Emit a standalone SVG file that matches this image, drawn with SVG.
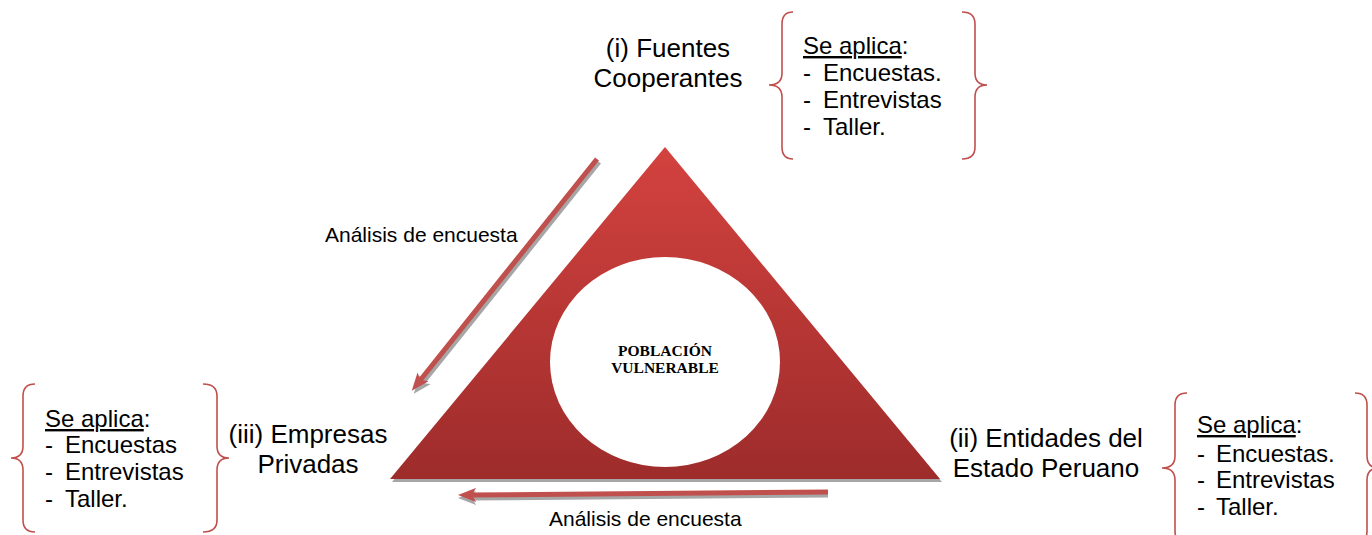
<svg xmlns="http://www.w3.org/2000/svg" width="1372" height="535" viewBox="0 0 1372 535">
<defs>
<linearGradient id="tg" x1="0" y1="0" x2="0" y2="1">
<stop offset="0" stop-color="#D3423F"/>
<stop offset="1" stop-color="#9D2C2B"/>
</linearGradient>
<marker id="ah" viewBox="0 0 18 14" refX="8" refY="7" markerWidth="18" markerHeight="14" markerUnits="userSpaceOnUse" orient="auto"><path d="M0,0 L18,7 L0,14 L4,7 Z" fill="#C0504D"/></marker>
<marker id="ahs" viewBox="0 0 18 14" refX="8" refY="7" markerWidth="18" markerHeight="14" markerUnits="userSpaceOnUse" orient="auto"><path d="M0,0 L18,7 L0,14 L4,7 Z" fill="#A6A6A6"/></marker>
</defs>
<style>
text{font-family:"Liberation Sans",Arial,sans-serif;fill:#000}
.lbl{font-size:26px;text-anchor:middle}
.lst{font-size:24px}
.an{font-size:21px}
.ctr{font-family:"Liberation Serif","Times New Roman",serif;font-weight:bold;font-size:15.5px;text-anchor:middle}
.brace{fill:none;stroke:#C0504D;stroke-width:1.6}
.arr{fill:none;stroke:#C0504D;stroke-width:5;marker-end:url(#ah)}
.arrs{fill:none;stroke:#A6A6A6;stroke-width:5;marker-end:url(#ahs)}
</style>

<g id="triangle">
<polygon points="666,150 392,482 942,482" fill="#A6A6A6"/>
<polygon points="665,147 390,479 940,479" fill="url(#tg)"/>
<ellipse cx="665" cy="362" rx="115" ry="105" fill="#FFFFFF"/>
<text class="ctr" x="665" y="356">POBLACIÓN</text>
<text class="ctr" x="665" y="373">VULNERABLE</text>
</g>

<g id="connectors">
<line class="arrs" x1="599" y1="162" x2="420" y2="386"/>
<line class="arr" x1="597" y1="159" x2="418" y2="383"/>
<text class="an" x="325" y="242">Análisis de encuesta</text>
<line class="arrs" x1="828" y1="495" x2="468" y2="498"/>
<line class="arr" x1="828" y1="492" x2="468" y2="495"/>
<text class="an" x="549" y="526">Análisis de encuesta</text>
</g>

<g id="node-fuentes">
<text class="lbl" x="668" y="57">(i) Fuentes</text>
<text class="lbl" x="668" y="87">Cooperantes</text>
</g>
<g id="list-fuentes">
<path class="brace" d="M793,12 Q782,12 782,24 L782,73 Q782,85 769,85 Q782,85 782,97 L782,147 Q782,159 793,159"/>
<path class="brace" d="M962,12 Q975,12 975,24 L975,73 Q975,85 987,85 Q975,85 975,97 L975,147 Q975,159 962,159"/>
<text class="lst" x="803" y="54"><tspan text-decoration="underline">Se aplica</tspan>:</text>
<text class="lst" x="803" y="81">-</text><text class="lst" x="823" y="81">Encuestas.</text>
<text class="lst" x="803" y="108">-</text><text class="lst" x="823" y="108">Entrevistas</text>
<text class="lst" x="803" y="135">-</text><text class="lst" x="823" y="135">Taller.</text>
</g>

<g id="node-empresas">
<text class="lbl" x="308" y="443">(iii) Empresas</text>
<text class="lbl" x="308" y="473">Privadas</text>
</g>
<g id="list-empresas">
<path class="brace" d="M35,384 Q23,384 23,396 L23,446 Q23,458 11,458 Q23,458 23,470 L23,520 Q23,532 35,532"/>
<path class="brace" d="M203,384 Q217,384 217,396 L217,446 Q217,458 229,458 Q217,458 217,470 L217,520 Q217,532 203,532"/>
<text class="lst" x="45" y="427"><tspan text-decoration="underline">Se aplica</tspan>:</text>
<text class="lst" x="45" y="453">-</text><text class="lst" x="65" y="453">Encuestas</text>
<text class="lst" x="45" y="480">-</text><text class="lst" x="65" y="480">Entrevistas</text>
<text class="lst" x="45" y="507">-</text><text class="lst" x="65" y="507">Taller.</text>
</g>

<g id="node-entidades">
<text class="lbl" x="1046" y="447">(ii) Entidades del</text>
<text class="lbl" x="1046" y="477">Estado Peruano</text>
</g>
<g id="list-entidades">
<path class="brace" d="M1187,393 Q1175,393 1175,405 L1175,456 Q1175,468 1162,468 Q1175,468 1175,480 L1175,531 Q1175,543 1187,543"/>
<path class="brace" d="M1355,393 Q1367,393 1367,405 L1367,456 Q1367,468 1379,468 Q1367,468 1367,480 L1367,531 Q1367,543 1355,543"/>
<text class="lst" x="1197" y="433"><tspan text-decoration="underline">Se aplica</tspan>:</text>
<text class="lst" x="1197" y="462">-</text><text class="lst" x="1216" y="462">Encuestas.</text>
<text class="lst" x="1197" y="488">-</text><text class="lst" x="1216" y="488">Entrevistas</text>
<text class="lst" x="1197" y="515">-</text><text class="lst" x="1216" y="515">Taller.</text>
</g>
</svg>
